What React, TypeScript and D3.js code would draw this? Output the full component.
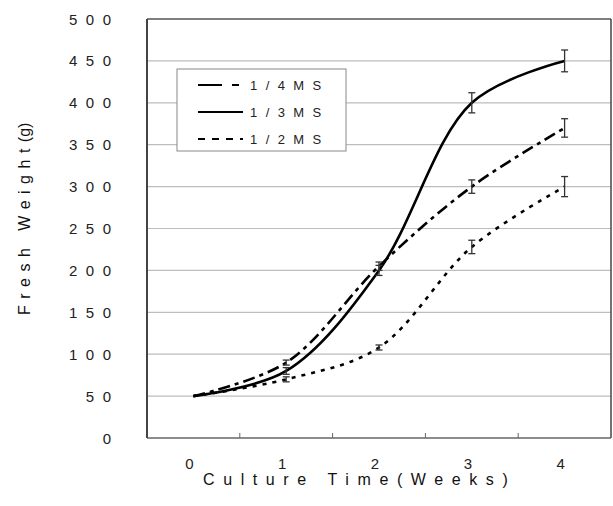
import React from "react";
import * as d3 from "d3";

const weeks = [0, 1, 2, 3, 4];
const weekLabels = ["0", "1", "2", "3", "4"];
const yTicks = [0, 50, 100, 150, 200, 250, 300, 350, 400, 450, 500];

const ms14 = [50, 90, 205, 300, 370];
const ms14Err = [0, 3, 5, 8, 11];
const ms13 = [50, 80, 200, 400, 450];
const ms13Err = [0, 4, 6, 12, 13];
const ms12 = [50, 70, 108, 228, 300];
const ms12Err = [0, 3, 3, 8, 12];

const seriesNames = ["1/4MS", "1/3MS", "1/2MS"];

const W = 613;
const H = 506;
const L = 147;
const R = 611;
const T = 19;
const B = 438;
const FONT = "'Liberation Sans', Arial, sans-serif";

export default function App() {
  const x = d3
    .scaleBand<number>()
    .domain(weeks)
    .range([L, R])
    .padding(0);
  const cx = (w: number) => (x(w) as number) + x.bandwidth() / 2;
  const y = d3.scaleLinear().domain([0, 500]).range([B, T]);

  const line = d3
    .line<number>()
    .x((_, i) => cx(weeks[i]))
    .y((d) => y(d))
    .curve(d3.curveCatmullRom.alpha(0.5));

  const series = [
    { name: seriesNames[0], vals: ms14, err: ms14Err, dash: "12,5,4,5" },
    { name: seriesNames[1], vals: ms13, err: ms13Err, dash: "none" },
    { name: seriesNames[2], vals: ms12, err: ms12Err, dash: "4,6" },
  ];
  const legendDash = ["24,10,7,20", "none", "7,7"];

  return (
    <svg
      width={W}
      height={H}
      style={{ position: "absolute", left: 0, top: 0, background: "#fff" }}
      fontFamily={FONT}
    >
      {/* gridlines */}
      {yTicks
        .filter((t) => t > 0 && t < 500)
        .map((t) => (
          <line key={t} x1={L} x2={R} y1={y(t)} y2={y(t)} stroke="#bdbdbd" strokeWidth={1.2} />
        ))}
      {/* frame */}
      <line x1={L} x2={R} y1={T} y2={T} stroke="#555" strokeWidth={1.5} />
      <line x1={R} x2={R} y1={T} y2={B} stroke="#444" strokeWidth={1.5} />
      <line x1={L} x2={R} y1={B} y2={B} stroke="#666" strokeWidth={1.5} />
      <line x1={L} x2={L} y1={T} y2={B} stroke="#444" strokeWidth={2} />
      {/* x ticks */}
      {weeks.slice(1).map((w) => (
        <line key={w} x1={x(w) as number} x2={x(w) as number} y1={B} y2={B - 5} stroke="#666" strokeWidth={1} />
      ))}
      {/* y tick labels */}
      {yTicks.map((t) => (
        <text
          key={t}
          x={111 + 8.5}
          y={y(t) + 5.5}
          textAnchor="end"
          fontSize={15}
          letterSpacing={8.5}
          fill="#222"
        >
          {String(t)}
        </text>
      ))}
      {/* x tick labels */}
      {weeks.map((w, i) => (
        <text key={w} x={cx(w) - 4} y={469} textAnchor="middle" fontSize={15} fill="#222">
          {weekLabels[i]}
        </text>
      ))}
      {/* axis titles */}
      <text x={203} y={485} fontSize={16} letterSpacing={8.6} fill="#111">
        Culture Time(Weeks)
      </text>
      <text
        transform="translate(30,315) rotate(-90)"
        fontSize={16}
        fill="#111"
      >
        <tspan letterSpacing={6.5}>Fresh Weight</tspan>
        <tspan letterSpacing={0}>(g)</tspan>
      </text>
      {/* lines */}
      {series.map((s) => (
        <path
          key={s.name}
          d={line(s.vals) || ""}
          fill="none"
          stroke="#000"
          strokeWidth={2.6}
          strokeDasharray={s.dash}
        />
      ))}
      {/* error bars */}
      {series.map((s) =>
        s.vals.map((v, i) =>
          s.err[i] > 0 ? (
            <g key={s.name + i} stroke="#333" strokeWidth={1.3}>
              <line x1={cx(weeks[i])} x2={cx(weeks[i])} y1={y(v - s.err[i])} y2={y(v + s.err[i])} />
              <line x1={cx(weeks[i]) - 3.5} x2={cx(weeks[i]) + 3.5} y1={y(v - s.err[i])} y2={y(v - s.err[i])} />
              <line x1={cx(weeks[i]) - 3.5} x2={cx(weeks[i]) + 3.5} y1={y(v + s.err[i])} y2={y(v + s.err[i])} />
            </g>
          ) : null
        )
      )}
      {/* legend */}
      <rect x={177} y={69} width={169} height={82} fill="#fff" stroke="#888" strokeWidth={1} />
      {series.map((s, i) => {
        const ly = 85 + i * 27;
        return (
          <g key={s.name}>
            <line
              x1={198}
              x2={243}
              y1={ly}
              y2={ly}
              stroke="#000"
              strokeWidth={2}
              strokeDasharray={legendDash[i]}
            />
            <text x={250} y={ly + 5} fontSize={13} letterSpacing={8.4} fill="#222">
              {s.name}
            </text>
          </g>
        );
      })}
    </svg>
  );
}
